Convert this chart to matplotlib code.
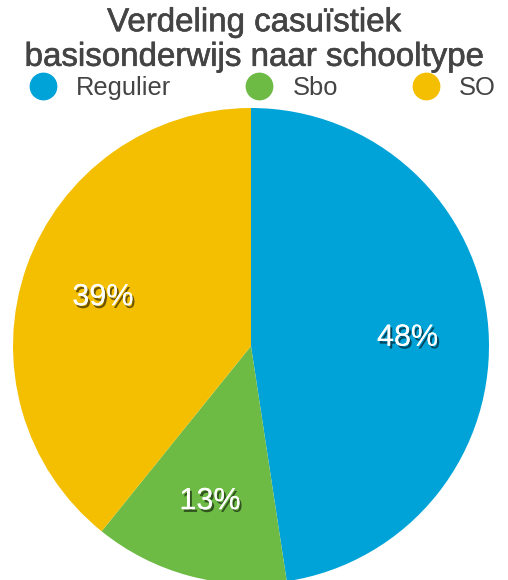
import matplotlib
matplotlib.use("Agg")
import matplotlib.pyplot as plt
import matplotlib.patheffects as pe
from matplotlib.lines import Line2D

plt.rcParams['font.family'] = ['Liberation Sans', 'DejaVu Sans']

title = "Verdeling casuïstiek\nbasisonderwijs naar schooltype"
categories = ["Regulier", "Sbo", "SO"]
values = [47.6, 13.2, 39.2]
colors = ["#00A3D8", "#6DBB45", "#F4BF00"]

W, H = 508, 580
fig = plt.figure(figsize=(W / 100, H / 100), dpi=100)
ax = fig.add_axes([0, 0, 1, 1])

wedges, texts, autotexts = ax.pie(
    values, colors=colors, startangle=90, counterclock=False,
    center=(251, H - 346), radius=238, autopct='%.0f%%', pctdistance=0.66,
    wedgeprops=dict(linewidth=0), textprops=dict(color='white', fontsize=22))
for t in autotexts:
    t.set_va('center_baseline')
    t.set_path_effects([pe.withSimplePatchShadow(offset=(1.5, -2), shadow_rgbFace='black', alpha=0.55),
                        pe.Normal()])

ax.set_xlim(0, W)
ax.set_ylim(0, H)
ax.set_aspect('equal')
ax.axis('off')

fig.text(0.5, 1 - 40 / H, title, ha='center', va='center', fontsize=23.8,
         color='#444444', linespacing=1.15,
         path_effects=[pe.withStroke(linewidth=0.45, foreground='#444444')])

handles = [Line2D([], [], marker='o', linestyle='none', markersize=19,
                  markerfacecolor=c, markeredgecolor=c) for c in colors]
fig.legend(handles, categories, loc='center', bbox_to_anchor=(263 / W, 1 - 88 / H),
           ncol=3, frameon=False, fontsize=18.4, labelcolor='#444444',
           handletextpad=0.8, columnspacing=2.95, borderpad=0, handlelength=1.0)

fig.savefig("out.png", dpi=100)
